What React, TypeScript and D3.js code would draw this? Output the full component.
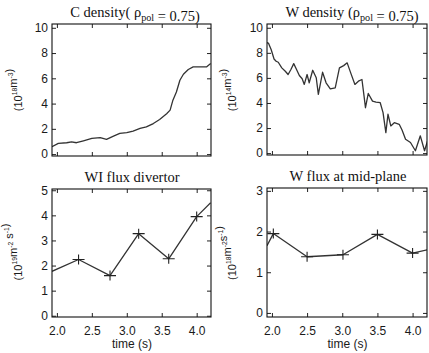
import { useEffect, useRef } from 'react';
import * as d3 from 'd3';

// C density (rho_pol = 0.75), 1e18 m^-3
const C_TIME = [1.93, 2.02, 2.14, 2.21, 2.28, 2.38, 2.5, 2.62, 2.71, 2.81, 2.9, 3.0, 3.09, 3.19, 3.28, 3.38, 3.47, 3.57, 3.62, 3.66, 3.71, 3.76, 3.81, 3.88, 3.95, 4.04, 4.14, 4.2];
const C_DENS = [0.58, 0.85, 0.9, 0.97, 0.9, 1.05, 1.24, 1.3, 1.16, 1.42, 1.64, 1.7, 1.82, 2.03, 2.16, 2.42, 2.74, 3.2, 3.48, 4.27, 4.92, 5.85, 6.32, 6.7, 6.9, 6.9, 6.9, 7.17];

// W density (rho_pol = 0.75), 1e14 m^-3
const W_TIME = [1.91, 1.95, 1.99, 2.03, 2.06, 2.09, 2.14, 2.19, 2.23, 2.27, 2.31, 2.35, 2.39, 2.43, 2.46, 2.5, 2.53, 2.58, 2.63, 2.66, 2.72, 2.77, 2.83, 2.9, 2.96, 3.02, 3.07, 3.12, 3.18, 3.23, 3.28, 3.31, 3.33, 3.37, 3.43, 3.48, 3.54, 3.58, 3.62, 3.65, 3.69, 3.74, 3.81, 3.85, 3.9, 3.97, 4.04, 4.11, 4.17, 4.22];
const W_DENS = [8.83, 8.78, 8.25, 7.51, 7.33, 7.25, 6.8, 6.53, 6.27, 6.67, 7.14, 6.67, 6.19, 5.93, 5.48, 6.27, 5.61, 6.61, 6.01, 4.68, 6.45, 5.61, 5.13, 5.21, 6.8, 6.98, 7.2, 6.4, 5.48, 5.74, 5.87, 4.55, 3.62, 4.76, 4.15, 4.07, 4.02, 3.23, 1.64, 3.1, 2.17, 2.43, 2.3, 1.85, 1.11, 0.85, 0.19, 1.38, 0.19, 1.11];

// WI flux divertor, 1e19 m^-2 s^-1
const WI_TIME = [1.93, 2.31, 2.76, 3.17, 3.6, 4.0, 4.2];
const WI_FLUX = [1.77, 2.24, 1.6, 3.27, 2.27, 3.95, 4.5];
const WI_MARK = [false, true, true, true, true, true, false];

// W flux at mid-plane, 1e18 m^-2 s^-1
const WM_TIME = [1.93, 2.02, 2.5, 3.01, 3.5, 4.0, 4.21];
const WM_FLUX = [1.65, 1.95, 1.38, 1.43, 1.93, 1.47, 1.55];
const WM_MARK = [false, true, true, true, true, true, false];

const X_TICKS = [2.0, 2.5, 3.0, 3.5, 4.0];

const SANS = 'Liberation Sans, Arial, sans-serif';
const SERIF = 'Liberation Serif, Times New Roman, serif';

type Part = { t: string; s?: 'sup' | 'sub' };

function richText(el: any, parts: Part[], base: number) {
  parts.forEach(function (p) {
    const ts = el.append('tspan').text(p.t);
    if (p.s === 'sup') ts.attr('font-size', base * 0.62).attr('dy', -base * 0.4);
    else if (p.s === 'sub') ts.attr('font-size', base * 0.7).attr('dy', base * 0.25);
    if (p.s) {
      // back to the baseline for what follows
      const back = p.s === 'sup' ? base * 0.4 : -base * 0.25;
      el.append('tspan').attr('dy', back).text('');
    }
  });
}

export default function App() {
  const ref = useRef<SVGSVGElement>(null);

  useEffect(function () {
    const svg = d3.select(ref.current);
    svg.selectAll('*').remove();

    const panels = [
      {
        id: 'c', x0: 52, x1: 211, y0: 24, y1: 156, yDomain: [-0.15, 10.3], yTicks: [0, 2, 4, 6, 8, 10],
        t: C_TIME, v: C_DENS, marks: null as boolean[] | null, xLabels: false,
        title: [{ t: 'C density( ' }, { t: 'ρ' }, { t: 'pol', s: 'sub' }, { t: ' = 0.75)' }] as Part[], titleX: 135,
        ylab: [{ t: '(10' }, { t: '18', s: 'sup' }, { t: 'm' }, { t: '-3', s: 'sup' }, { t: ')' }] as Part[], ylabX: 18, ylabY: 90
      },
      {
        id: 'w', x0: 267, x1: 427, y0: 24, y1: 155, yDomain: [-0.15, 10.3], yTicks: [0, 2, 4, 6, 8, 10],
        t: W_TIME, v: W_DENS, marks: null, xLabels: false,
        title: [{ t: 'W density (' }, { t: 'ρ' }, { t: 'pol', s: 'sub' }, { t: ' = 0.75)' }] as Part[], titleX: 352,
        ylab: [{ t: '(10' }, { t: '14', s: 'sup' }, { t: 'm' }, { t: '-3', s: 'sup' }, { t: ')' }] as Part[], ylabX: 232, ylabY: 90
      },
      {
        id: 'wi', x0: 52, x1: 211, y0: 189, y1: 317, yDomain: [-0.05, 5.05], yTicks: [0, 1, 2, 3, 4, 5],
        t: WI_TIME, v: WI_FLUX, marks: WI_MARK, xLabels: true,
        title: [{ t: 'WI flux divertor' }] as Part[], titleX: 132,
        ylab: [{ t: '(10' }, { t: '19', s: 'sup' }, { t: 'm' }, { t: '-2', s: 'sup' }, { t: ' s' }, { t: '-1', s: 'sup' }, { t: ')' }] as Part[], ylabX: 18, ylabY: 252
      },
      {
        id: 'wm', x0: 267, x1: 427, y0: 188, y1: 317, yDomain: [-0.1, 3.07], yTicks: [0, 1, 2, 3],
        t: WM_TIME, v: WM_FLUX, marks: WM_MARK, xLabels: true,
        title: [{ t: 'W flux at mid-plane' }] as Part[], titleX: 348,
        ylab: [{ t: '(10' }, { t: '18', s: 'sup' }, { t: 'm' }, { t: '-2', s: 'sup' }, { t: 's' }, { t: '-1', s: 'sup' }, { t: ')' }] as Part[], ylabX: 232, ylabY: 253
      }
    ];

    panels.forEach(function (p) {
      const x = d3.scaleLinear().domain([1.93, 4.205]).range([p.x0, p.x1]);
      const y = d3.scaleLinear().domain(p.yDomain).range([p.y1, p.y0]);

      svg.append('clipPath').attr('id', 'clip-' + p.id)
        .append('rect').attr('x', p.x0).attr('y', p.y0).attr('width', p.x1 - p.x0).attr('height', p.y1 - p.y0);

      // data line
      const pts = p.t.map(function (t, i) { return [t, p.v[i]] as [number, number]; });
      const line = d3.line<[number, number]>().x(function (d) { return x(d[0]); }).y(function (d) { return y(d[1]); });
      svg.append('path')
        .attr('d', line(pts))
        .attr('fill', 'none')
        .attr('stroke', '#333')
        .attr('stroke-width', 1.3)
        .attr('stroke-linejoin', 'round')
        .attr('clip-path', 'url(#clip-' + p.id + ')');

      if (p.marks) {
        pts.forEach(function (d, i) {
          if (!p.marks![i]) return;
          svg.append('path')
            .attr('transform', 'translate(' + x(d[0]) + ',' + y(d[1]) + ')')
            .attr('d', 'M-6,0H6M0,-5V5')
            .attr('stroke', '#222')
            .attr('stroke-width', 1.1)
            .attr('fill', 'none');
        });
      }

      // ticks inside the box
      const noLabel = function () { return ''; };
      const gL = svg.append('g').attr('transform', 'translate(' + p.x0 + ',0)')
        .call(d3.axisRight(y).tickValues(p.yTicks).tickSize(4).tickFormat(noLabel) as any);
      const gR = svg.append('g').attr('transform', 'translate(' + p.x1 + ',0)')
        .call(d3.axisLeft(y).tickValues(p.yTicks).tickSize(4).tickFormat(noLabel) as any);
      const gT = svg.append('g').attr('transform', 'translate(0,' + p.y0 + ')')
        .call(d3.axisBottom(x).tickValues(X_TICKS).tickSize(4).tickFormat(noLabel) as any);
      const gB = svg.append('g').attr('transform', 'translate(0,' + p.y1 + ')')
        .call(d3.axisTop(x).tickValues(X_TICKS).tickSize(4).tickFormat(noLabel) as any);
      [gL, gR, gT, gB].forEach(function (g) {
        g.select('.domain').remove();
        g.selectAll('line').attr('stroke', '#222').attr('stroke-width', 1);
      });

      // y tick labels
      const yl = svg.append('g').attr('transform', 'translate(' + p.x0 + ',0)')
        .call(d3.axisLeft(y).tickValues(p.yTicks).tickSize(0).tickPadding(4).tickFormat(d3.format('d')) as any);
      yl.select('.domain').remove();
      yl.selectAll('text').attr('font-family', SANS).attr('font-size', 12).attr('fill', '#1a1a1a');

      // x tick labels
      if (p.xLabels) {
        const xl = svg.append('g').attr('transform', 'translate(0,' + p.y1 + ')')
          .call(d3.axisBottom(x).tickValues(X_TICKS).tickSize(0).tickPadding(9).tickFormat(d3.format('.1f')) as any);
        xl.select('.domain').remove();
        xl.selectAll('text').attr('font-family', SANS).attr('font-size', 12).attr('fill', '#1a1a1a');

        svg.append('text')
          .attr('x', (p.x0 + p.x1) / 2 + 0.5)
          .attr('y', 348)
          .attr('text-anchor', 'middle')
          .attr('font-family', SANS)
          .attr('font-size', 12)
          .attr('fill', '#1a1a1a')
          .text('time (s)');
      }

      // frame
      svg.append('rect')
        .attr('x', p.x0).attr('y', p.y0)
        .attr('width', p.x1 - p.x0).attr('height', p.y1 - p.y0)
        .attr('fill', 'none').attr('stroke', '#111').attr('stroke-width', 1.1);

      // title
      const tt = svg.append('text')
        .attr('x', p.titleX)
        .attr('y', p.y0 - 7)
        .attr('text-anchor', 'middle')
        .attr('font-family', SERIF)
        .attr('font-size', 14.5)
        .attr('fill', '#111');
      richText(tt, p.title, 14.5);

      // y label
      const yt = svg.append('text')
        .attr('transform', 'translate(' + p.ylabX + ',' + p.ylabY + ') rotate(-90)')
        .attr('text-anchor', 'middle')
        .attr('dy', '0.35em')
        .attr('font-family', SANS)
        .attr('font-size', 11)
        .attr('fill', '#1a1a1a');
      richText(yt, p.ylab, 11);
    });
  }, []);

  return (
    <svg
      ref={ref}
      width={429}
      height={353}
      style={{ position: 'absolute', left: 0, top: 0, background: '#fff' }}
    />
  );
}
